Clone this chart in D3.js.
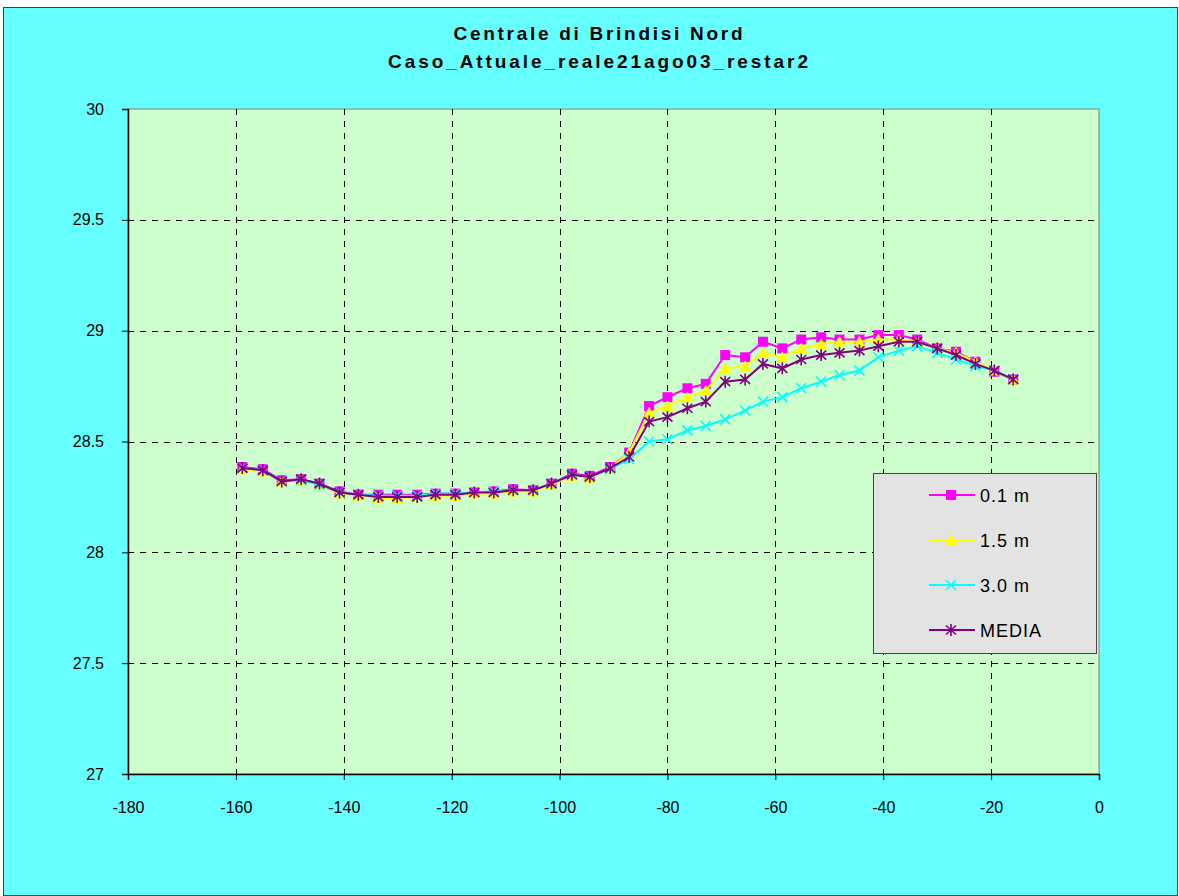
<!DOCTYPE html>
<html>
<head>
<meta charset="utf-8">
<script src="https://cdn.jsdelivr.net/npm/d3@7"></script>
<style>
  body { margin: 0; background: #ffffff; }
  svg text { font-family: "Liberation Sans", Arial, sans-serif; fill: #000; }
</style>
</head>
<body>
<svg id="chart" width="1179" height="896"></svg>
<script>
// Temperature profiles along the transect (distance in m, temperature in °C)
const distance = [-158.8, -155.0, -151.5, -147.9, -144.5, -140.8, -137.3, -133.6, -130.1, -126.4,
                  -123.0, -119.3, -115.8, -112.2, -108.6, -104.9, -101.5, -97.7, -94.4, -90.6,
                  -87.1, -83.4, -80.0, -76.3, -72.9, -69.3, -65.6, -62.3, -58.7, -55.2,
                  -51.5, -48.1, -44.4, -40.9, -37.1, -33.7, -30.0, -26.5, -22.9, -19.4, -15.9];

const depth01 = [28.385, 28.375, 28.325, 28.33, 28.31, 28.275, 28.26, 28.26, 28.26, 28.26,
                 28.265, 28.265, 28.27, 28.275, 28.285, 28.28, 28.31, 28.355, 28.345, 28.385,
                 28.45, 28.66, 28.70, 28.74, 28.76, 28.89, 28.88, 28.95, 28.92, 28.96,
                 28.97, 28.96, 28.96, 28.98, 28.98, 28.96, 28.92, 28.905, 28.86, 28.815, 28.78];

const depth15 = [28.375, 28.365, 28.32, 28.325, 28.305, 28.265, 28.255, 28.245, 28.245, 28.25,
                 28.255, 28.255, 28.265, 28.265, 28.275, 28.275, 28.305, 28.345, 28.335, 28.38,
                 28.45, 28.63, 28.66, 28.70, 28.73, 28.83, 28.84, 28.90, 28.88, 28.92,
                 28.94, 28.95, 28.95, 28.96, 28.96, 28.95, 28.92, 28.90, 28.86, 28.82, 28.78];

const depth30 = [28.38, 28.37, 28.32, 28.325, 28.305, 28.27, 28.26, 28.255, 28.255, 28.255,
                 28.265, 28.265, 28.27, 28.275, 28.28, 28.28, 28.31, 28.35, 28.34, 28.375,
                 28.42, 28.50, 28.51, 28.55, 28.57, 28.60, 28.64, 28.68, 28.70, 28.74,
                 28.77, 28.80, 28.82, 28.88, 28.91, 28.93, 28.90, 28.87, 28.84, 28.82, 28.78];

const media   = [28.38, 28.37, 28.32, 28.33, 28.31, 28.27, 28.26, 28.25, 28.25, 28.25,
                 28.26, 28.26, 28.27, 28.27, 28.28, 28.28, 28.31, 28.35, 28.34, 28.38,
                 28.43, 28.59, 28.61, 28.65, 28.68, 28.77, 28.78, 28.85, 28.83, 28.87,
                 28.89, 28.90, 28.91, 28.93, 28.95, 28.95, 28.92, 28.89, 28.85, 28.82, 28.78];

const seriesNames = ["0.1 m", "1.5 m", "3.0 m", "MEDIA"];
const seriesColors = ["#ff00ff", "#ffff00", "#00ffff", "#800080"];
const seriesMarkers = ["square", "triangle", "cross", "star"];

const xTicks = [-180, -160, -140, -120, -100, -80, -60, -40, -20, 0];
const yTicks = [27, 27.5, 28, 28.5, 29, 29.5, 30];
const titleLines = ["Centrale di Brindisi Nord", "Caso_Attuale_reale21ago03_restar2"];
const titleWidths = [289, 420];

const svg = d3.select("#chart");
const W = 1179, H = 896;
const plot = { left: 128, top: 109, right: 1099, bottom: 774 };

// chart background and frame
svg.append("rect").attr("x", 3.5).attr("y", 7.5).attr("width", W - 5).attr("height", H - 8)
  .attr("fill", "#66ffff").attr("stroke", "#404040").attr("stroke-width", 1);

const x = d3.scaleLinear().domain([-180, 0]).range([plot.left, plot.right]);
const y = d3.scaleLinear().domain([27, 30]).range([plot.bottom, plot.top]);

// plot area
svg.append("rect")
  .attr("x", plot.left).attr("y", plot.top)
  .attr("width", plot.right - plot.left).attr("height", plot.bottom - plot.top)
  .attr("fill", "#ccffcc").attr("stroke", "#808080").attr("stroke-width", 1);

// dashed grid
const grid = svg.append("g").attr("stroke", "#000").attr("stroke-width", 1)
  .attr("stroke-dasharray", "6,6").attr("shape-rendering", "crispEdges");
grid.selectAll("line.v").data(xTicks.filter(t => t > -180 && t < 0)).join("line")
  .attr("x1", d => Math.round(x(d)) + 0.5).attr("x2", d => Math.round(x(d)) + 0.5)
  .attr("y1", plot.top).attr("y2", plot.bottom);
grid.selectAll("line.h").data(yTicks.filter(t => t > 27 && t < 30)).join("line")
  .attr("y1", d => Math.round(y(d)) + 0.5).attr("y2", d => Math.round(y(d)) + 0.5)
  .attr("x1", plot.left).attr("x2", plot.right);

// axes
const xAxis = d3.axisBottom(x).tickValues(xTicks).tickSize(6).tickPadding(22).tickFormat(d => String(d));
const yAxis = d3.axisLeft(y).tickValues(yTicks).tickSize(6).tickPadding(18).tickFormat(d => String(d));

const gx = svg.append("g").attr("transform", `translate(0,${plot.bottom})`).call(xAxis);
const gy = svg.append("g").attr("transform", `translate(${plot.left},0)`).call(yAxis);
[gx, gy].forEach(g => {
  g.select(".domain").attr("stroke", "#000").attr("stroke-width", 1.5);
  g.selectAll(".tick line").attr("stroke", "#000");
  g.selectAll(".tick text").attr("font-size", 16).attr("font-family", "Liberation Sans, Arial, sans-serif");
});

// title
svg.append("g").selectAll("text").data(titleLines).join("text")
  .attr("x", 598).attr("y", (d, i) => 40 + i * 28)
  .attr("text-anchor", "middle").attr("font-size", 19).attr("font-weight", "bold")
  .attr("textLength", (d, i) => titleWidths[i]).attr("lengthAdjust", "spacing")
  .text(d => d);

// marker shapes
function marker(sel, kind, color) {
  if (kind === "square") {
    sel.append("rect").attr("x", -5).attr("y", -5).attr("width", 10).attr("height", 10).attr("fill", color);
  } else if (kind === "triangle") {
    sel.append("path").attr("d", "M0,-6L6,5L-6,5Z").attr("fill", color);
  } else if (kind === "cross") {
    sel.append("path").attr("d", "M-5,-5L5,5M-5,5L5,-5").attr("stroke", color).attr("stroke-width", 1.6).attr("fill", "none");
  } else {
    sel.append("path").attr("d", "M0,-6L0,6M-5,-4.5L5,4.5M-5,4.5L5,-4.5").attr("stroke", color).attr("stroke-width", 1.6).attr("fill", "none");
  }
}

const seriesValues = [depth01, depth15, depth30, media];
const line = d3.line().x(d => x(d[0])).y(d => y(d[1]));

seriesValues.forEach((vals, si) => {
  const pts = distance.map((d, i) => [d, vals[i]]);
  const g = svg.append("g");
  g.append("path").datum(pts).attr("d", line)
    .attr("fill", "none").attr("stroke", seriesColors[si]).attr("stroke-width", 2);
  g.selectAll("g.m").data(pts).join("g")
    .attr("transform", d => `translate(${x(d[0])},${y(d[1])})`)
    .each(function () { marker(d3.select(this), seriesMarkers[si], seriesColors[si]); });
});

// legend
const lg = svg.append("g").attr("transform", "translate(873,473)");
lg.append("rect").attr("x", 0.5).attr("y", 0.5).attr("width", 223).attr("height", 180)
  .attr("fill", "#e3e3e3").attr("stroke", "#444").attr("stroke-width", 1);
seriesNames.forEach((name, i) => {
  const row = lg.append("g").attr("transform", `translate(0,${22 + i * 45})`);
  row.append("line").attr("x1", 56).attr("x2", 102).attr("y1", 0).attr("y2", 0)
    .attr("stroke", seriesColors[i]).attr("stroke-width", 2);
  const m = row.append("g").attr("transform", "translate(78,0)");
  marker(m, seriesMarkers[i], seriesColors[i]);
  row.append("text").attr("x", 107).attr("y", 7).attr("font-size", 18)
    .attr("letter-spacing", 1).text(name);
});
</script>
</body>
</html>
